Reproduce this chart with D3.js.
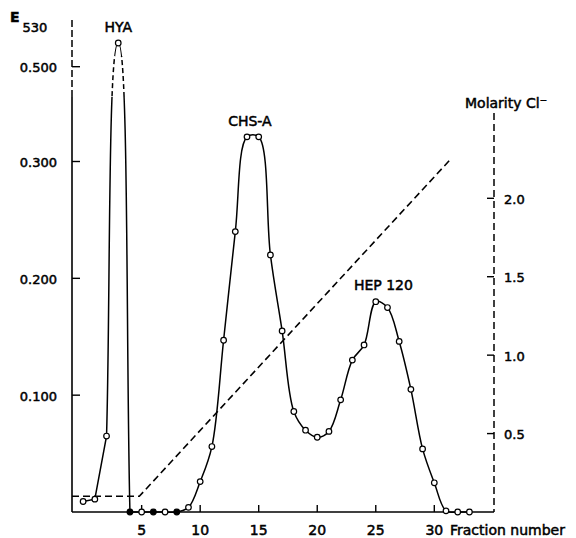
<!DOCTYPE html>
<html>
<head>
<meta charset="utf-8">
<script src="https://cdn.jsdelivr.net/npm/d3@7"></script>
<style>
  html, body { margin: 0; padding: 0; background: #fff; }
  svg text { font-family: "DejaVu Sans", sans-serif; fill: #000; stroke: #000; stroke-width: 0.5px; }
</style>
</head>
<body>
<svg id="chart" width="576" height="538"></svg>
<script>
// ---------- data ----------
const fractions = [0,1,2,3,4,5,6,7,8,9,10,11,12,13,14,15,16,17,18,19,20,21,22,23,24,25,26,27,28,29,30,31,32,33];
const e530 = [0.009,0.011,0.065,0.55,0,0,0,0,0,0.004,0.026,0.056,0.147,0.240,0.352,0.352,0.220,0.155,0.086,0.070,0.064,0.069,0.096,0.130,0.143,0.180,0.175,0.146,0.105,0.054,0.025,0.001,0,0];
const filledFractions = [4, 6, 8];
const hyaLastFraction = 4;
const gradientFractions = [-0.95, 4.8, 31.4];
const gradientMolarity = [0.1, 0.1, 2.25];
const xTicks = [5, 10, 15, 20, 25, 30];
const leftTicks = [0.1, 0.2, 0.3, 0.5];
const leftTickLabels = ["0.100", "0.200", "0.300", "0.500"];
const rightTicks = [0.5, 1.0, 1.5, 2.0];
const rightTickLabels = ["0.5", "1.0", "1.5", "2.0"];
const peakLabels = [
  {text: "HYA", fraction: 3.0, value: 0.573},
  {text: "CHS-A", fraction: 14.25, value: 0.3755},
  {text: "HEP 120", fraction: 25.65, value: 0.1903}
];

// ---------- layout ----------
const left = 72, right = 494, bottom = 512;
const axisTop = 20, breakTop = 56, breakBottom = 97, rightAxisTop = 113;

const svg = d3.select("#chart");
const x = d3.scaleLinear().domain([-0.95, 35.1]).range([left, right]);
// broken E530 scale: linear to 0.3, compressed above
const y = d3.scaleLinear().domain([0, 0.3, 0.5]).range([bottom, 161.5, 66.7]);
const y2 = d3.scaleLinear().domain([0, 2]).range([bottom, 198.3]);

// custom curve: straight segments, rounded (horizontal tangent) at strict extrema
function roundedPeakCurve(context) {
  let pts;
  return {
    areaStart() {}, areaEnd() {},
    lineStart() { pts = []; },
    point(px, py) { pts.push([+px, +py]); },
    lineEnd() {
      const n = pts.length;
      if (!n) return;
      const isExt = i => i > 0 && i < n - 1 &&
        (pts[i][1] - pts[i-1][1]) * (pts[i+1][1] - pts[i][1]) < 0;
      const horiz = i => {
        const dx = pts[i+1][0] - pts[i-1][0], dy = pts[i+1][1] - pts[i-1][1];
        return [0.8 * Math.hypot(dx, dy) / 2, 0];
      };
      context.moveTo(pts[0][0], pts[0][1]);
      for (let i = 0; i < n - 1; i++) {
        const a = pts[i], b = pts[i+1], chord = [b[0] - a[0], b[1] - a[1]];
        const m0 = isExt(i) ? horiz(i) : chord;
        const m1 = isExt(i + 1) ? horiz(i + 1) : chord;
        context.bezierCurveTo(a[0] + m0[0] / 3, a[1] + m0[1] / 3,
                              b[0] - m1[0] / 3, b[1] - m1[1] / 3, b[0], b[1]);
      }
    }
  };
}

const defs = svg.append("defs");
const cpOut = defs.append("clipPath").attr("id", "outBreak");
cpOut.append("rect").attr("x", 0).attr("y", 0).attr("width", 576).attr("height", breakTop);
cpOut.append("rect").attr("x", 0).attr("y", breakBottom).attr("width", 576).attr("height", 538 - breakBottom);
defs.append("clipPath").attr("id", "inBreak")
  .append("rect").attr("x", 0).attr("y", breakTop).attr("width", 576).attr("height", breakBottom - breakTop);

// ---------- axes ----------
svg.append("line").attr("x1", left).attr("x2", right).attr("y1", bottom).attr("y2", bottom)
  .attr("stroke", "#000").attr("stroke-width", 1.6);
svg.selectAll(".xt").data(xTicks).enter().append("line")
  .attr("x1", d => x(d)).attr("x2", d => x(d)).attr("y1", bottom).attr("y2", bottom - 7)
  .attr("stroke", "#000").attr("stroke-width", 1.4);
svg.selectAll(".xl").data(xTicks).enter().append("text")
  .attr("x", d => x(d)).attr("y", 535).attr("text-anchor", "middle")
  .attr("font-size", 14).text(d => d);
svg.append("text").attr("x", 450).attr("y", 535).attr("font-size", 14).text("Fraction number");

// left axis: dashed top part (scale break), solid below
svg.append("line").attr("x1", left).attr("x2", left).attr("y1", axisTop).attr("y2", breakBottom)
  .attr("stroke", "#000").attr("stroke-width", 1.5).attr("stroke-dasharray", "7,3");
svg.append("line").attr("x1", left).attr("x2", left).attr("y1", breakBottom).attr("y2", bottom)
  .attr("stroke", "#000").attr("stroke-width", 1.6);
svg.selectAll(".yt").data(leftTicks).enter().append("line")
  .attr("x1", left).attr("x2", left + 8).attr("y1", d => y(d)).attr("y2", d => y(d))
  .attr("stroke", "#000").attr("stroke-width", 1.4);
svg.selectAll(".yl").data(leftTicks).enter().append("text")
  .attr("x", 57).attr("y", d => y(d) + 5.5).attr("text-anchor", "end")
  .attr("font-size", 13).text((d, i) => leftTickLabels[i]);
svg.append("text").attr("x", 10).attr("y", 22).attr("font-size", 14).attr("font-weight", "bold").text("E");
svg.append("text").attr("x", 22.5).attr("y", 31.7).attr("font-size", 13).text("530");

// right axis (dashed)
svg.append("line").attr("x1", right).attr("x2", right).attr("y1", rightAxisTop).attr("y2", bottom)
  .attr("stroke", "#000").attr("stroke-width", 1.5).attr("stroke-dasharray", "7,4");
svg.selectAll(".rt").data(rightTicks).enter().append("line")
  .attr("x1", right - 7).attr("x2", right).attr("y1", d => y2(d)).attr("y2", d => y2(d))
  .attr("stroke", "#000").attr("stroke-width", 1.4);
svg.selectAll(".rl").data(rightTicks).enter().append("text")
  .attr("x", 504).attr("y", d => y2(d) + 5.5)
  .attr("font-size", 13).text((d, i) => rightTickLabels[i]);
svg.append("text").attr("x", 465).attr("y", 108.3).attr("font-size", 14).text("Molarity Cl\u207B");

// ---------- salt gradient (dashed) ----------
const gLine = d3.line().x(d => x(d[0])).y(d => y2(d[1]));
svg.append("path").datum(gradientFractions.map((f, i) => [f, gradientMolarity[i]]))
  .attr("d", gLine).attr("fill", "none").attr("stroke", "#000")
  .attr("stroke-width", 1.6).attr("stroke-dasharray", "7,4");

// ---------- elution curve ----------
const pts = fractions.map((f, i) => [f, e530[i]]);
const hyaPts = pts.filter(d => d[0] <= hyaLastFraction);
const restPts = pts.filter(d => d[0] >= hyaLastFraction);

const hyaLine = d3.line().x(d => x(d[0])).y(d => y(d[1])).curve(roundedPeakCurve);
const restLine = d3.line().x(d => x(d[0])).y(d => y(d[1])).curve(d3.curveCatmullRom.alpha(0.5));

svg.append("path").datum(hyaPts).attr("d", hyaLine).attr("fill", "none")
  .attr("stroke", "#000").attr("stroke-width", 1.5).attr("clip-path", "url(#outBreak)");
svg.append("path").datum(hyaPts).attr("d", hyaLine).attr("fill", "none")
  .attr("stroke", "#000").attr("stroke-width", 1.5).attr("stroke-dasharray", "5,3")
  .attr("clip-path", "url(#inBreak)");
svg.append("path").datum(restPts).attr("d", restLine).attr("fill", "none")
  .attr("stroke", "#000").attr("stroke-width", 1.5);

svg.selectAll(".pt").data(pts).enter().append("circle")
  .attr("cx", d => x(d[0])).attr("cy", d => y(d[1])).attr("r", 2.8)
  .attr("fill", d => filledFractions.includes(d[0]) ? "#000" : "#fff")
  .attr("stroke", "#000").attr("stroke-width", 1.2);

// peak labels
svg.selectAll(".pl").data(peakLabels).enter().append("text")
  .attr("x", d => x(d.fraction)).attr("y", d => y(d.value))
  .attr("text-anchor", "middle").attr("font-size", 14).text(d => d.text);
</script>
</body>
</html>
